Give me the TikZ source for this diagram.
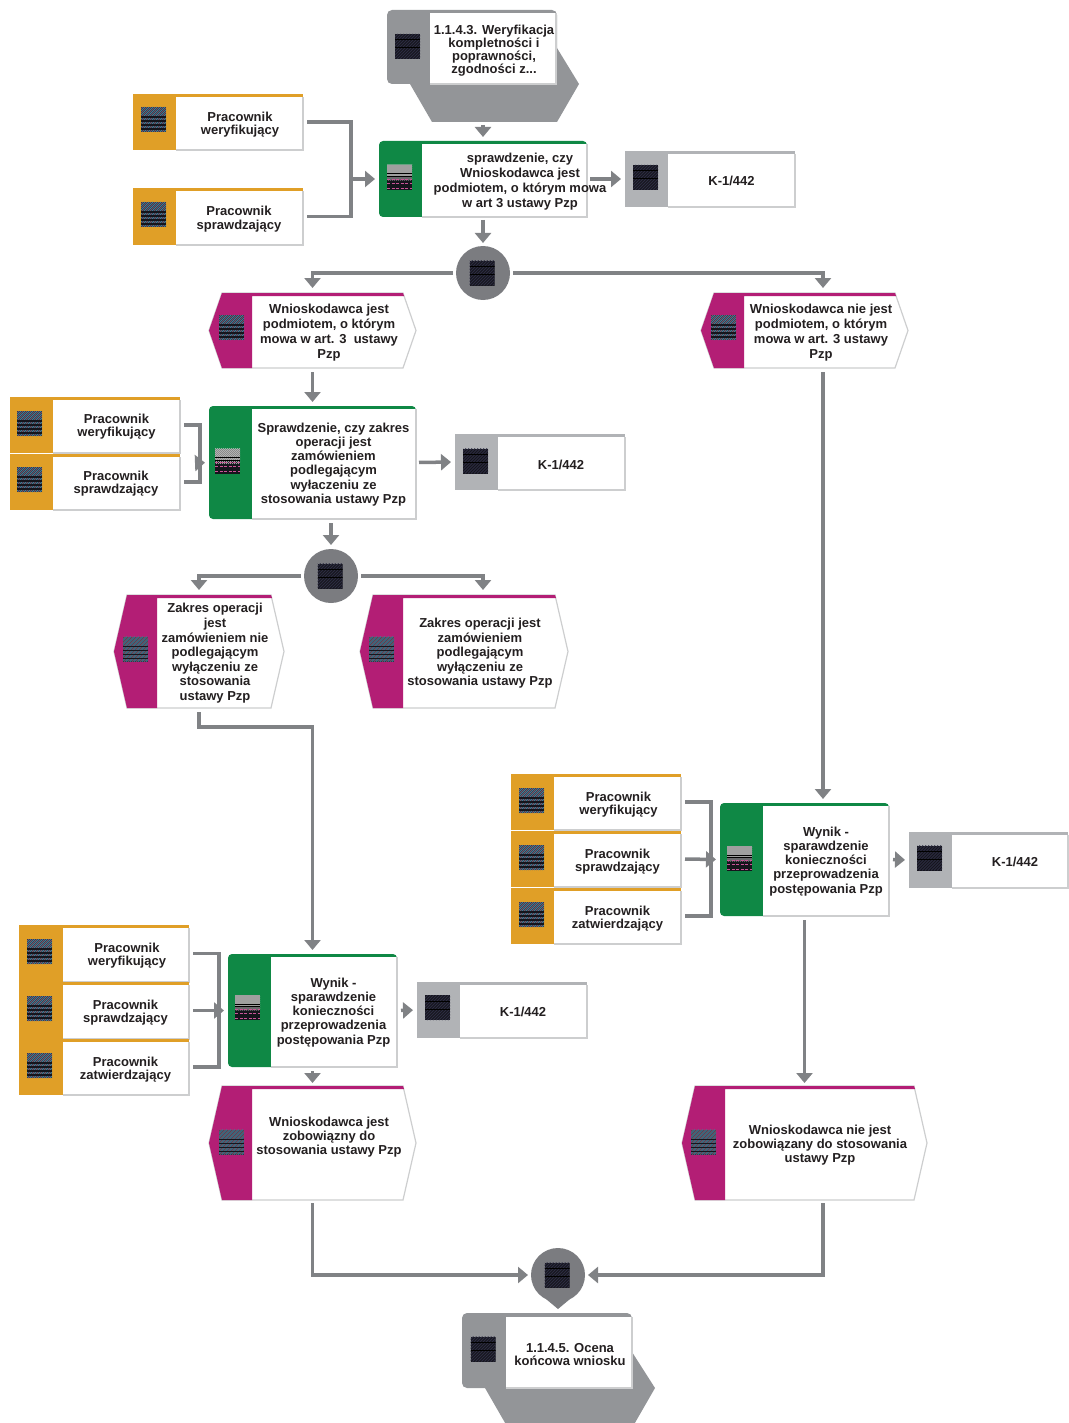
\documentclass[tikz,border=0pt]{standalone}
\usepackage{fontspec}
\setmainfont{Liberation Sans}
\usetikzlibrary{arrows.meta,fit,calc}
\definecolor{cOr}{HTML}{E09F27}
\definecolor{cGr}{HTML}{0F8845}
\definecolor{cMa}{HTML}{B31E75}
\definecolor{cKg}{HTML}{B1B3B6}
\definecolor{cIf}{HTML}{939598}
\definecolor{cCi}{HTML}{7B7C80}
\definecolor{cLn}{HTML}{808285}
\definecolor{cBd}{HTML}{CDCECF}
\definecolor{cTx}{HTML}{231F20}
\definecolor{cDk}{HTML}{15151C}
\definecolor{cDl}{HTML}{2C2C42}
\definecolor{cSa}{HTML}{3F7F95}
\definecolor{cSb}{HTML}{7D5F6E}
\tikzset{
  conn/.style={draw=cLn,line width=3.5pt,miter limit=10},
  arr/.style={conn,-{Triangle[width=16pt,length=10pt]}},
  frame/.style={fit={#1},inner sep=0pt,outer sep=0pt},
  bord/.style={draw=cBd,line width=1.2pt,fill=white},
  edge/.style={draw=cBd,line width=1.2pt},
  lab/.style={text=cTx,align=center,inner sep=0pt,yshift=-1.4pt,font=\bfseries\fontsize{13}{#1}\selectfont}
}
% icon: centre x, y
\newcommand{\IcD}[2]{\begin{scope}\clip ({#1-12.5},{#2-12.5}) rectangle ({#1+12.5},{#2+12.5});
 \fill[cDk] ({#1-12.5},{#2-12.5}) rectangle ({#1+12.5},{#2+12.5});
 \foreach \d in {0,3,...,48}{\draw[cDl,line width=.8pt] ({#1-37.5+\d},{#2+12.5}) -- ++(25,-25);}
 \foreach \d in {6,14}{\draw[black,line width=1pt] ({#1-12.5},{#2-12.5+\d}) -- ++(25,0);}
 \end{scope}}
\newcommand{\IcC}[2]{\begin{scope}\clip ({#1-12.5},{#2-12.5}) rectangle ({#1+12.5},{#2+12.5});
 \fill[cDl] ({#1-12.5},{#2-12.5}) rectangle ({#1+12.5},{#2+12.5});
 \foreach \d in {0,4,...,48}{\draw[cSa,line width=.8pt] ({#1-37.5+\d},{#2+12.5}) -- ++(25,-25);}
 \foreach \d in {2,6,...,50}{\draw[cSb,line width=.7pt] ({#1-37.5+\d},{#2+12.5}) -- ++(25,-25);}
 \foreach \d in {10,14,18,22}{\draw[cDk,line width=1.1pt] ({#1-12.5},{#2-12.5+\d}) -- ++(25,0);}
 \end{scope}}
\newcommand{\IcG}[2]{\begin{scope}\clip ({#1-12.5},{#2-12.5}) rectangle ({#1+12.5},{#2+12.5});
 \fill[gray] ({#1-12.5},{#2-12.5}) rectangle ({#1+12.5},{#2-1});
 \fill[cDk] ({#1-12.5},{#2-1}) rectangle ({#1+12.5},{#2+12.5});
 \foreach \d in {0,2,...,48}{\draw[gray!50!white,line width=.5pt] ({#1-37.5+\d},{#2+3}) -- ++(25,-25);}
 \foreach \d in {9,11.5}{\draw[black,line width=1pt] ({#1-12.5},{#2-12.5+\d}) -- ++(25,0);}
 \foreach \d in {14,18,23}{\draw[magenta!60!gray,line width=.7pt,dash pattern=on 3pt off 1.5pt] ({#1-12.5},{#2-12.5+\d}) -- ++(25,0);}
 \end{scope}}
% box with strip: name,x1,y1,x2,y2,whitex,colour
\newcommand{\Bx}[7]{
 \fill[#7] (#2,#3) rectangle (#6,#5);
 \fill[white] (#6,{#3+3}) rectangle (#4,#5);
 \path[edge] (#4,{#3+3}) -- (#4,#5) -- (#6,#5);
 \fill[#7] (#2,#3) rectangle (#4,{#3+3});
 \node[frame={(#2,#3)(#4,#5)}] (#1) {};}
% process: rounded-corner version
\newcommand{\Prc}[6]{
 \fill[cGr,rounded corners=4pt] (#2,#3) rectangle (#4,#5);
 \fill[white] (#6,{#3+3}) rectangle (#4,#5);
 \path[edge] (#4,{#3+3}) -- (#4,#5) -- (#6,#5);
 \node[frame={(#2,#3)(#4,#5)}] (#1) {};}
% event: name,x1,y1,x2,y2,whitex
\newcommand{\Ev}[6]{
 \path[bord] (#2,{(#3+#5)/2}) -- ({#2+13},#3) -- ({#4-13},#3) -- (#4,{(#3+#5)/2}) -- ({#4-13},#5) -- ({#2+13},#5) -- cycle;
 \fill[cMa] (#2,{(#3+#5)/2}) -- ({#2+13},#3) -- ({#4-13},#3) -- ({#4-12},{#3+3}) -- (#6,{#3+3}) -- (#6,#5) -- ({#2+13},#5) -- cycle;
 \node[frame={(#2,#3)(#4,#5)}] (#1) {};}
% decision circle
\newcommand{\Ci}[3]{\node[circle,fill=cCi,minimum size=54pt,inner sep=0pt,outer sep=0pt] (#1) at (#2,#3) {};
 \IcD{#2-1}{#3}}
\begin{document}
\begin{tikzpicture}[x=1pt,y=-1pt]
\useasboundingbox (0,0) rectangle (1068,1423);
% start interface
\fill[cIf,rounded corners=5pt] (387,10) rectangle (557,84);
\fill[cIf] (410,84) -- (432,122) -- (557,122) -- (579,84) -- (557,48) -- (557,84) -- cycle;
\fill[white] (430,13) rectangle (556,84);
\path[edge] (556,13) -- (556,84) -- (430,84);
\node[frame={(387,10)(579,122)}] (start) {};
\IcD{407.5}{46.5}
\node[lab=13] (tstart) at (494,49) {1.1.4.3. Weryfikacja\\kompletności i\\poprawności,\\zgodności z...};
% row 1
\Bx{r1}{133}{94}{303}{150}{176}{cOr} \IcC{153.5}{119.5}
\node[lab=13] (tr1) at (240,123) {Pracownik\\weryfikujący};
\Bx{r2}{133}{188}{303}{245}{176}{cOr} \IcC{153.5}{214.5}
\node[lab=14] (tr2) at (239,217.5) {Pracownik\\sprawdzający};
\Prc{g1}{379}{141}{587}{217}{422} \IcG{399.5}{177.5}
\node[lab=15] (tg1) at (520,180) {sprawdzenie, czy\\Wnioskodawca jest\\podmiotem, o którym mowa\\w art 3 ustawy Pzp};
\Bx{k1}{625}{151}{795}{207}{668}{cKg} \IcD{645.5}{177.5}
\node[lab=15] (tk1) at (731.5,179.5) {K-1/442};
\Ci{c1}{483}{273}
% events row 2
\Ev{evA}{209}{293}{416}{368}{252} \IcC{231.5}{327.5}
\node[lab=15] (tevA) at (329,331) {Wnioskodawca jest\\podmiotem, o którym\\mowa w art. 3~ ustawy\\Pzp};
\Ev{evB}{701}{293}{908}{368}{744} \IcC{723.5}{327.5}
\node[lab=15] (tevB) at (821,331) {Wnioskodawca nie jest\\podmiotem, o którym\\mowa w art. 3 ustawy\\Pzp};
% row 3
\Bx{r3}{10}{397}{180}{453}{53}{cOr} \IcC{29.5}{423.5}
\node[lab=13] (tr3) at (116.5,425) {Pracownik\\weryfikujący};
\Bx{r4}{10}{454}{180}{510}{53}{cOr} \IcC{29.5}{479.5}
\node[lab=13] (tr4) at (116,482) {Pracownik\\sprawdzający};
\Prc{g2}{209}{406}{416}{519}{252} \IcG{227.5}{461}
\node[lab=14.3] (tg2) at (333.5,463) {Sprawdzenie, czy zakres\\operacji jest\\zamówieniem\\podlegającym\\wyłaczeniu ze\\stosowania ustawy Pzp};
\Bx{k2}{455}{434}{625}{490}{498}{cKg} \IcD{475.5}{461}
\node[lab=15] (tk2) at (561,463.5) {K-1/442};
\Ci{c2}{331}{576}
% row 4
\Ev{evC}{114}{595}{284}{708}{157} \IcC{135.5}{649}
\node[lab=14.6] (tevC) at (215,652) {Zakres operacji\\jest\\zamówieniem nie\\podlegającym\\wyłączeniu ze\\stosowania\\ustawy Pzp};
\Ev{evD}{360}{595}{568}{708}{403} \IcC{381.5}{649}
\node[lab=14.4] (tevD) at (480,652) {Zakres operacji jest\\zamówieniem\\podlegającym\\wyłączeniu ze\\stosowania ustawy Pzp};
% right group
\Bx{r5}{511}{774}{681}{830}{554}{cOr} \IcC{531.5}{800.5}
\node[lab=13] (tr5) at (618.5,803) {Pracownik\\weryfikujący};
\Bx{r6}{511}{831}{681}{887}{554}{cOr} \IcC{531.5}{857.5}
\node[lab=13] (tr6) at (617.5,860) {Pracownik\\sprawdzający};
\Bx{r7}{511}{888}{681}{944}{554}{cOr} \IcC{531.5}{914.5}
\node[lab=13] (tr7) at (617.5,917) {Pracownik\\zatwierdzający};
\Prc{g3}{720}{803}{889}{916}{763} \IcG{739.5}{858.5}
\node[lab=14.2] (tg3) at (826,860) {Wynik -\\sparawdzenie\\konieczności\\przeprowadzenia\\postępowania Pzp};
\Bx{k3}{909}{832}{1068}{888}{952}{cKg} \IcD{929.5}{858}
\node[lab=15] (tk3) at (1015,860.5) {K-1/442};
% left group
\Bx{r8}{19}{925}{189}{982}{63}{cOr} \IcC{39.5}{951.5}
\node[lab=13] (tr8) at (127,954) {Pracownik\\weryfikujący};
\Bx{r9}{19}{982}{189}{1039}{63}{cOr} \IcC{39.5}{1008.5}
\node[lab=13] (tr9) at (125.5,1011) {Pracownik\\sprawdzający};
\Bx{r10}{19}{1039}{189}{1095}{63}{cOr} \IcC{39.5}{1065.5}
\node[lab=13] (tr10) at (125.5,1068) {Pracownik\\zatwierdzający};
\Prc{g4}{228}{954}{397}{1067}{271} \IcG{247.5}{1007.5}
\node[lab=14.2] (tg4) at (333.5,1011) {Wynik -\\sparawdzenie\\konieczności\\przeprowadzenia\\postępowania Pzp};
\Bx{k4}{417}{982}{587}{1038}{460}{cKg} \IcD{437.5}{1007.5}
\node[lab=15] (tk4) at (523,1010.5) {K-1/442};
% final events
\Ev{evE}{209}{1086}{416}{1200}{252} \IcC{231.5}{1142}
\node[lab=14] (tevE) at (329,1136) {Wnioskodawca jest\\zobowiązny do\\stosowania ustawy Pzp};
\Ev{evF}{682}{1086}{927}{1200}{725} \IcC{703.5}{1142}
\node[lab=14] (tevF) at (820,1144) {Wnioskodawca nie jest\\zobowiązany do stosowania\\ustawy Pzp};
% final decision with point
\fill[cCi] (546,1299) -- (558,1309) -- (570,1299) -- cycle;
\Ci{c3}{558}{1275}
% end interface
\fill[cIf,rounded corners=5pt] (462,1313) rectangle (632,1388);
\fill[cIf] (485,1388) -- (508,1428) -- (632,1428) -- (655,1388) -- (632,1352) -- (632,1388) -- cycle;
\fill[white] (506,1317) rectangle (632,1388);
\path[edge] (632,1317) -- (632,1388) -- (506,1388);
\node[frame={(462,1313)(655,1423)}] (end) {};
\IcD{483}{1349}
\node[lab=13] (tend) at (570,1353) {1.1.4.5. Ocena\\końcowa wniosku};
% connector junctions
\coordinate (j1) at (351,179);
\coordinate (j2) at (200,463);
\coordinate (j2a) at (196,463);
\coordinate (j3) at (219,1010);
\coordinate (j4) at (711,859);
\coordinate (evBt) at (823,293);
\coordinate (evBb) at (823,368);
\coordinate (g3t) at (823,803);
\coordinate (evDt) at (483,595);
\coordinate (evFb) at (823,1200);
\coordinate (evCb) at (199,708);
\coordinate (evCk) at (199,727);
% connectors
\draw[arr,shorten <=3pt,shorten >=4pt] (start.south) -- (g1.north);
\draw[conn,shorten <=4pt,shorten >=4pt] (r1.east) -- (r1.east -| j1) -- (r2.east -| j1) -- (r2.east);
\draw[arr,shorten >=4pt] (j1) -- (g1.west);
\draw[arr,shorten <=3pt,shorten >=4pt] (g1.east) -- (k1.west);
\draw[arr,shorten <=3pt,shorten >=3pt] (g1.south) -- (c1.north);
\draw[arr,shorten <=3pt,shorten >=5pt] (c1.west) -- (c1.west -| evA.north) -- (evA.north);
\draw[arr,shorten <=3pt,shorten >=5pt] (c1.east) -- (c1.east -| evBt) -- (evBt);
\draw[arr,shorten <=4pt,shorten >=4pt] (evA.south) -- (g2.north);
\draw[conn,shorten <=4pt,shorten >=4pt] (r3.east) -- (r3.east -| j2) -- (r4.east -| j2) -- (r4.east);
\draw[arr,shorten >=4pt] (j2a) -- (g2.west);
\draw[arr,shorten <=3pt,shorten >=4pt] (g2.east) -- (k2.west);
\draw[arr,shorten <=4pt,shorten >=4pt] (g2.south -| c2.north) -- (c2.north);
\draw[arr,shorten <=3pt,shorten >=5pt] (c2.west) -- (c2.west -| evC.north) -- (evC.north);
\draw[arr,shorten <=3pt,shorten >=5pt] (c2.east) -- (c2.east -| evDt) -- (evDt);
\draw[arr,shorten <=4pt,shorten >=4pt] (evCb) -- (evCk) -- (evCk -| g4.north) -- (g4.north);
\draw[conn,shorten <=4pt,shorten >=4pt] (r8.east) -- (r8.east -| j3) -- (r10.east -| j3) -- (r10.east);
\draw[arr,shorten <=4pt,shorten >=4pt] (r9.east) -- (g4.west);
\draw[arr,shorten <=4pt,shorten >=4pt] (g4.east) -- (k4.west);
\draw[arr,shorten <=4pt,shorten >=3pt] (g4.south) -- (evE.north);
\draw[arr,shorten <=4pt,shorten >=4pt] (evBb) -- (g3t);
\draw[conn,shorten <=4pt,shorten >=4pt] (r5.east) -- (r5.east -| j4) -- (r7.east -| j4) -- (r7.east);
\draw[arr,shorten <=4pt,shorten >=4pt] (r6.east) -- (g3.west);
\draw[arr,shorten <=4pt,shorten >=4pt] (g3.east) -- (k3.west);
\draw[arr,shorten <=4pt,shorten >=3pt] (g3.south) -- (evF.north);
\draw[arr,shorten <=3pt,shorten >=3pt] (evE.south) -- (evE.south |- c3.west) -- (c3.west);
\draw[arr,shorten <=3pt,shorten >=3pt] (evFb) -- (evFb |- c3.east) -- (c3.east);
\end{tikzpicture}
\end{document}
